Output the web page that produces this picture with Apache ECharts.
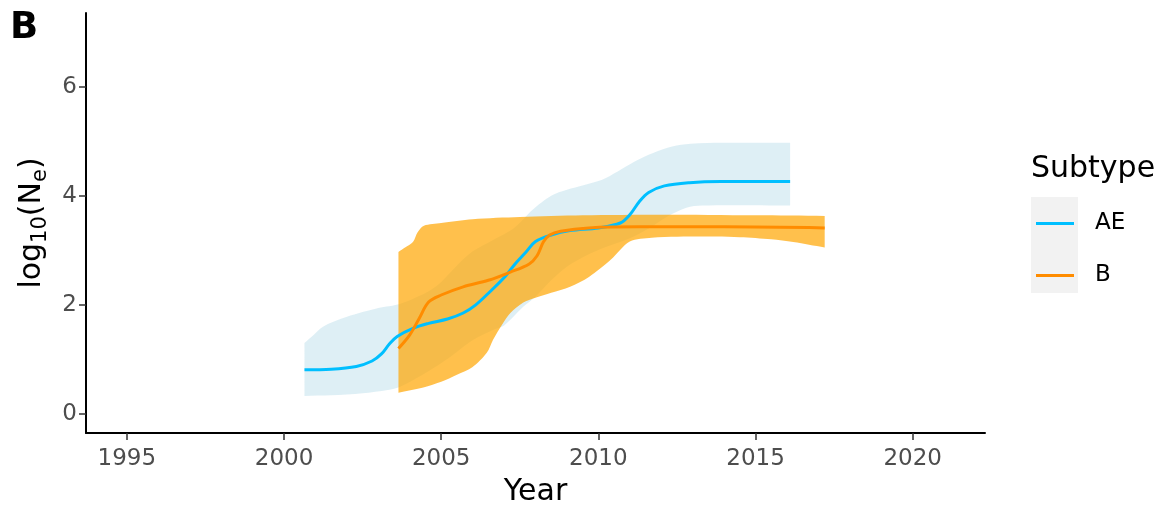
<!DOCTYPE html>
<html><head><meta charset="utf-8">
<script src="https://cdn.jsdelivr.net/npm/echarts@6/dist/echarts.min.js"></script>
<style>html,body{margin:0;padding:0;background:#fff}#c{width:1162px;height:506px}</style>
</head><body><div id="c"></div>
<script>
const xTicks = [1995, 2000, 2005, 2010, 2015, 2020];
const yTicks = [0, 2, 4, 6];
const seriesNames = ['AE', 'B'];

// AE median
const aeYears = [2000.65, 2001.5, 2002.3, 2002.8, 2003.1, 2003.35, 2003.6, 2004.1, 2004.6, 2005.2, 2005.7, 2006.1, 2006.55, 2007.05, 2007.35, 2007.7, 2008.0, 2008.5, 2009.1, 2010.0, 2010.7, 2011.0, 2011.3, 2011.6, 2012.1, 2012.9, 2013.9, 2016.1];
const aeMedian = [0.81, 0.82, 0.87, 0.97, 1.1, 1.28, 1.42, 1.57, 1.66, 1.74, 1.85, 2.0, 2.24, 2.53, 2.75, 2.97, 3.16, 3.28, 3.36, 3.41, 3.5, 3.65, 3.89, 4.06, 4.18, 4.24, 4.26, 4.26];
// AE band
const aeUpYears = [2000.65, 2000.85, 2001.24, 2002.0, 2003.0, 2003.7, 2004.6, 2005.0, 2005.5, 2006.0, 2006.65, 2007.3, 2007.9, 2008.5, 2009.0, 2010.1, 2010.6, 2011.1, 2011.6, 2012.2, 2012.7, 2013.7, 2016.1];
const aeUpper = [1.30, 1.40, 1.60, 1.78, 1.94, 2.02, 2.25, 2.42, 2.72, 2.98, 3.19, 3.40, 3.74, 4.00, 4.11, 4.29, 4.44, 4.61, 4.75, 4.88, 4.94, 4.97, 4.97];
const aeLoYears = [2000.65, 2001.5, 2002.5, 2003.3, 2003.7, 2004.5, 2005.3, 2006.0, 2006.7, 2007.0, 2007.6, 2008.0, 2008.5, 2009.0, 2009.6, 2010.2, 2011.0, 2011.6, 2012.2, 2012.8, 2013.3, 2016.1];
const aeLower = [0.33, 0.34, 0.38, 0.44, 0.50, 0.75, 1.05, 1.35, 1.55, 1.62, 1.96, 2.15, 2.45, 2.70, 2.90, 3.05, 3.22, 3.40, 3.62, 3.78, 3.82, 3.82];

// B median
const bYears = [2003.64, 2004.0, 2004.3, 2004.6, 2005.0, 2005.7, 2006.5, 2007.2, 2007.8, 2008.05, 2008.25, 2008.45, 2008.8, 2009.7, 2011.3, 2014.0, 2017.2];
const bMedian = [1.2, 1.45, 1.75, 2.05, 2.18, 2.33, 2.45, 2.6, 2.75, 2.9, 3.15, 3.28, 3.35, 3.41, 3.43, 3.43, 3.41];
// B band
const bUpYears = [2003.64, 2003.85, 2004.1, 2004.25, 2004.45, 2005.0, 2006.0, 2007.5, 2009.5, 2012.0, 2015.0, 2017.2];
const bUpper = [2.97, 3.05, 3.15, 3.33, 3.45, 3.50, 3.57, 3.61, 3.64, 3.65, 3.64, 3.63];
const bLoYears = [2003.64, 2004.4, 2005.0, 2005.5, 2006.0, 2006.45, 2006.65, 2006.95, 2007.2, 2007.6, 2008.0, 2008.5, 2009.1, 2009.7, 2010.4, 2011.0, 2011.7, 2012.5, 2014.5, 2015.5, 2016.2, 2016.7, 2017.2];
const bLower = [0.39, 0.48, 0.59, 0.72, 0.86, 1.12, 1.36, 1.65, 1.85, 2.04, 2.13, 2.22, 2.33, 2.51, 2.83, 3.16, 3.23, 3.25, 3.24, 3.20, 3.15, 3.10, 3.05];

const FONT = 'DejaVu Sans';
function pairs(xs, ys) { return xs.map((x, i) => [x, ys[i]]); }

function band(name, upX, upY, loX, loY, fill, z) {
  const up = pairs(upX, upY);
  const lo = pairs(loX, loY).reverse();
  const pts = up.concat(lo);
  return {
    type: 'custom', name: name, z: z, silent: true, data: pts,
    encode: { x: 0, y: 1 },
    renderItem: function (params, api) {
      if (params.dataIndex !== 0) return { type: 'group', children: [] };
      const u = up.map(p => api.coord(p));
      const l = lo.map(p => api.coord(p));
      // duplicate end points of each edge so the smoothed outline keeps sharp vertical ends
      const poly = [u[0]].concat(u, [u[u.length - 1]], [l[0]], l, [l[l.length - 1]]);
      return { type: 'polygon', shape: { points: poly, smooth: 0.3 }, style: { fill: fill } };
    }
  };
}

function line(name, xs, ys, color, z) {
  return {
    type: 'line', name: name, z: z, data: pairs(xs, ys), showSymbol: false, symbol: 'none',
    smooth: 0.35,
    lineStyle: { color: color, width: 3 }, itemStyle: { color: color }
  };
}

const chart = echarts.init(document.getElementById('c'), null, { renderer: 'canvas' });
chart.setOption({
  animation: false,
  backgroundColor: '#ffffff',
  textStyle: { fontFamily: FONT },
  title: [
    { text: 'B', left: 10, top: 10, padding: 0, textStyle: { fontFamily: FONT, fontSize: 37, fontWeight: 'bold', color: '#000' } },
    { text: 'Subtype', left: 1031, top: 154, padding: 0, textStyle: { fontFamily: FONT, fontSize: 30, fontWeight: 'normal', color: '#000' } }
  ],
  graphic: [
    { type: 'rect', left: 1031, top: 197, z: 0, silent: true, shape: { width: 47, height: 96 }, style: { fill: '#f2f2f2' } }
  ],
  legend: {
    orient: 'vertical', left: 1036, top: 212, padding: 0, z: 5,
    itemWidth: 38, itemHeight: 3, itemGap: 29, icon: 'rect',
    data: seriesNames,
    textStyle: { fontFamily: FONT, fontSize: 23, lineHeight: 20, color: '#000', padding: [0, 0, 0, 16] }
  },
  grid: { left: 86, right: 177, top: 13, bottom: 73, outerBoundsMode: 'none', containLabel: false },
  xAxis: {
    type: 'value', min: 1993.7, max: 2022.3,
    name: 'Year', nameLocation: 'middle', nameGap: 44,
    nameTextStyle: { fontFamily: FONT, fontSize: 30, color: '#000' },
    axisLine: { onZero: false, lineStyle: { color: '#000', width: 2 } },
    axisTick: { customValues: xTicks, length: 7, lineStyle: { color: '#333', width: 1.5 } },
    axisLabel: { customValues: xTicks, fontFamily: FONT, fontSize: 23, color: '#4d4d4d', margin: 15, formatter: v => String(v) },
    splitLine: { show: false }
  },
  yAxis: {
    type: 'value', min: -0.35, max: 7.35,
    name: '{a|log}{s|10}{a|(N}{s|e}{a|)}', nameLocation: 'middle', nameGap: 36, nameRotate: 90,
    nameTextStyle: {
      fontFamily: FONT, color: '#000',
      rich: {
        a: { fontFamily: FONT, fontSize: 30, lineHeight: 30, color: '#000' },
        s: { fontFamily: FONT, fontSize: 21, lineHeight: 21, padding: [18, 0, 0, 0], color: '#000' }
      }
    },
    axisLine: { onZero: false, lineStyle: { color: '#000', width: 2 } },
    axisTick: { customValues: yTicks, length: 7, lineStyle: { color: '#333', width: 1.5 } },
    axisLabel: { customValues: yTicks, fontFamily: FONT, fontSize: 23, color: '#4d4d4d', margin: 9, formatter: v => String(v) },
    splitLine: { show: false }
  },
  series: [
    band('AE band', aeUpYears, aeUpper, aeLoYears, aeLower, 'rgba(173,216,230,0.4)', 1),
    band('B band', bUpYears, bUpper, bLoYears, bLower, 'rgba(255,165,0,0.7)', 2),
    line('AE', aeYears, aeMedian, '#00bfff', 3),
    line('B', bYears, bMedian, '#ff8c00', 4)
  ]
});
</script>
</body></html>
